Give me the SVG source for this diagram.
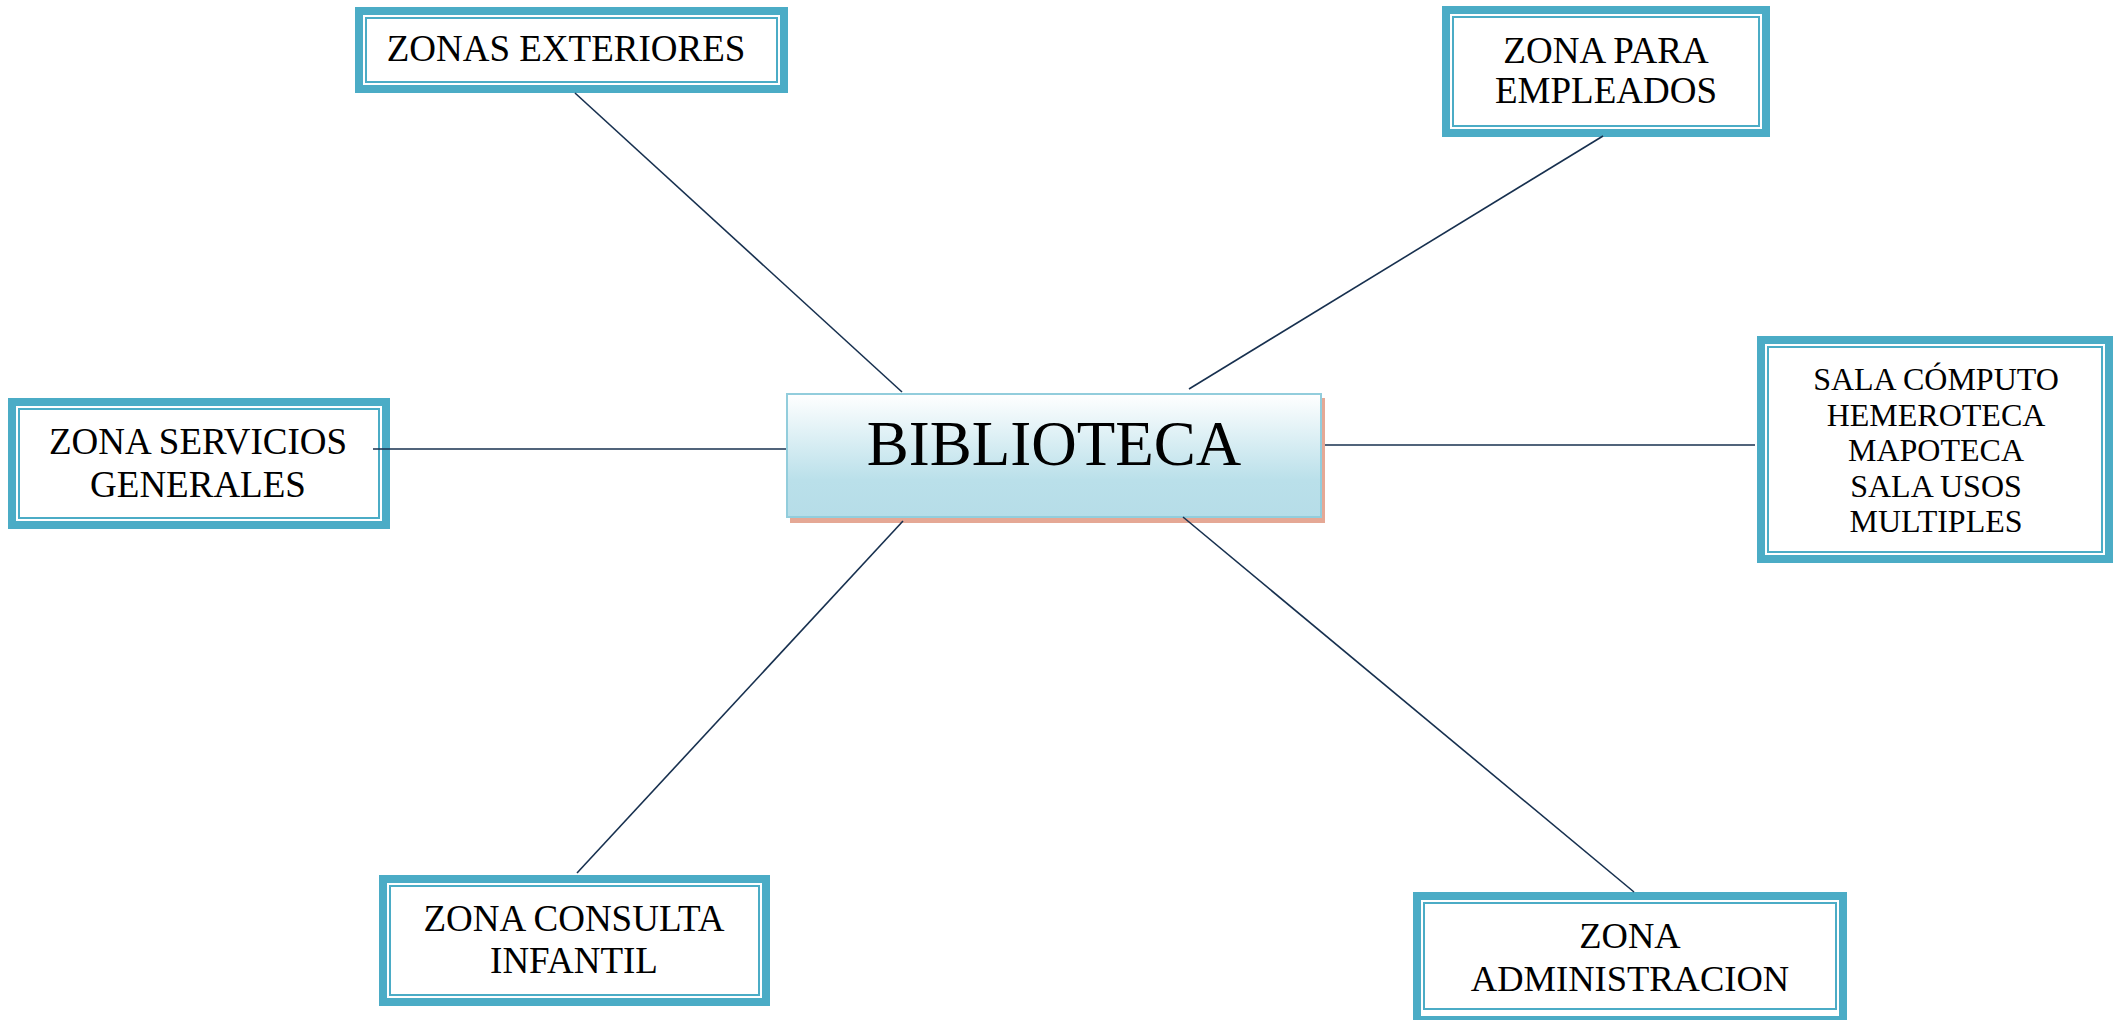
<svg xmlns="http://www.w3.org/2000/svg" width="2115" height="1020" viewBox="0 0 2115 1020">
<style>
.outer{fill:#ffffff;stroke:#4bacc6;stroke-width:8}
.inner{fill:none;stroke:#4bacc6;stroke-width:2}
.t{font-family:"Liberation Serif","Times New Roman",serif;font-size:37px;fill:#000;text-anchor:middle}
.s{font-size:32px}
.c{stroke:#17304f;stroke-width:1.6;fill:none}
</style>
<defs>
<linearGradient id="g" x1="0" y1="0" x2="0" y2="1">
<stop offset="0" stop-color="#ffffff"/>
<stop offset="0.7" stop-color="#bae0ea"/>
<stop offset="1" stop-color="#b6dde8"/>
</linearGradient>
</defs>
<rect width="2115" height="1020" fill="#ffffff"/>
<g id="node-biblioteca">
<rect x="790" y="398" width="535" height="125" fill="#e5a895"/>
<rect x="787" y="394" width="534" height="123" fill="url(#g)" stroke="#92cddc" stroke-width="2"/>
<text class="t" x="1054" y="465" style="font-size:63px">BIBLIOTECA</text>
</g>
<g id="node-exteriores">
<rect class="outer" x="359" y="11" width="425" height="78"/>
<rect class="inner" x="366" y="18" width="411" height="64"/>
<text class="t" x="566" y="61">ZONAS EXTERIORES</text>
</g>
<g id="node-empleados">
<rect class="outer" x="1446" y="10" width="320" height="123"/>
<rect class="inner" x="1453" y="17" width="306" height="109"/>
<text class="t" x="1606" y="63">ZONA PARA</text>
<text class="t" x="1606" y="103">EMPLEADOS</text>
</g>
<g id="node-servicios">
<rect class="outer" x="12" y="402" width="374" height="123"/>
<rect class="inner" x="19" y="409" width="360" height="109"/>
<text class="t" x="198" y="454">ZONA SERVICIOS</text>
<text class="t" x="198" y="497">GENERALES</text>
</g>
<g id="node-salas">
<rect class="outer" x="1761" y="340" width="348" height="219"/>
<rect class="inner" x="1768" y="347" width="334" height="205"/>
<text class="t s" x="1936" y="390">SALA CÓMPUTO</text>
<text class="t s" x="1936" y="425.5">HEMEROTECA</text>
<text class="t s" x="1936" y="461">MAPOTECA</text>
<text class="t s" x="1936" y="496.5">SALA USOS</text>
<text class="t s" x="1936" y="532">MULTIPLES</text>
</g>
<g id="node-consulta">
<rect class="outer" x="383" y="879" width="383" height="123"/>
<rect class="inner" x="390" y="886" width="369" height="109"/>
<text class="t" x="574" y="931">ZONA CONSULTA</text>
<text class="t" x="574" y="973">INFANTIL</text>
</g>
<g id="node-administracion">
<rect class="outer" x="1417" y="896" width="426" height="124"/>
<rect class="inner" x="1424" y="903" width="412" height="106"/>
<text class="t" x="1630" y="948" style="font-size:36.5px">ZONA</text>
<text class="t" x="1630" y="991" style="font-size:36.5px">ADMINISTRACION</text>
</g>
<g id="connectors">
<line class="c" x1="575" y1="93" x2="902" y2="392" stroke-width="1.1"/>
<line class="c" x1="1603" y1="136" x2="1189" y2="389"/>
<line class="c" x1="373" y1="449" x2="786" y2="449" stroke-width="1.1"/>
<line class="c" x1="1325" y1="445" x2="1755" y2="445"/>
<line class="c" x1="577" y1="873" x2="903" y2="521"/>
<line class="c" x1="1634" y1="892" x2="1183" y2="517"/>
</g>
</svg>
